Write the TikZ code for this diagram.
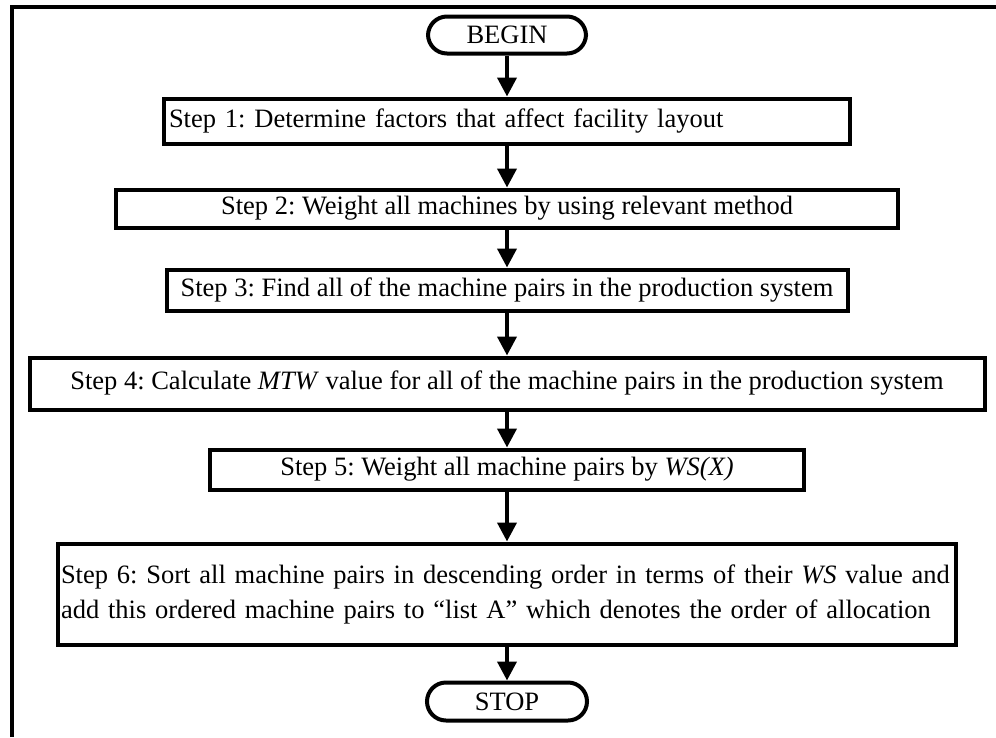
\documentclass[tikz,border=0pt]{standalone}
\usepackage{fontspec}
\setmainfont{Liberation Serif}
\usetikzlibrary{positioning,arrows.meta}

\begin{document}
\frenchspacing
\begin{tikzpicture}[x=1pt, y=1pt,
            stepbox/.style={
                rectangle, draw=black, line width=4pt,
                inner sep=5pt,
                font=\fontsize{26.5}{35}\selectfont
            },
            terminal/.style={
                rectangle, rounded corners=19pt, draw=black, line width=4pt,
                minimum width=158pt, minimum height=37pt,
                inner sep=0pt,
                font=\fontsize{26.5}{35}\selectfont
            },
            flow/.style={-{Triangle[width=19pt,length=19pt]}, line width=4pt},
        ]

            \useasboundingbox (0,0) rectangle (996,-737);
            \draw [line width=4pt] (12,-737) -- (12,-7) -- (996,-7);

            \node [terminal] (begin) at (507,-35) {BEGIN};

            \node [stepbox, minimum width=686pt, minimum height=45pt, text width=676pt, align=left] (step1) [ below= 41pt of begin ] {Step 1: Determine factors that affect facility layout};
            \draw [flow] (begin) -- (step1);

            \node [stepbox, minimum width=782pt, minimum height=38pt] (step2) [ below= 42pt of step1 ] {Step 2: Weight all machines by using relevant method};
            \draw [flow] (step1) -- (step2);

            \node [stepbox, minimum width=681pt, minimum height=41pt, inner xsep=2pt] (step3) [ below= 38pt of step2 ] {Step 3: Find all of the machine pairs in the production system};
            \draw [flow] (step2) -- (step3);

            \node [stepbox, minimum width=955pt, minimum height=52pt] (step4) [ below= 43pt of step3 ] {Step 4: Calculate \textit{MTW} value for all of the machine pairs in the production system};
            \draw [flow] (step3) -- (step4);

            \node [stepbox, minimum width=594pt, minimum height=40pt] (step5) [ below= 36pt of step4 ] {Step 5: Weight all machine pairs by \textit{WS(X)}};
            \draw [flow] (step4) -- (step5);

            \node [stepbox, minimum width=898pt, minimum height=101pt, inner xsep=3pt, text width=892pt, align=left] (step6) [ below= 50pt of step5 ] {Step 6: Sort all machine pairs in descending order in terms of their \textit{WS} value and\\add this ordered machine pairs to “list A” which denotes the order of allocation};
            \draw [flow] (step5) -- (step6);

            \node [terminal, minimum width=160pt, minimum height=38pt] (stop) [ below= 34pt of step6 ] {STOP};
            \draw [flow] (step6) -- (stop);

        \end{tikzpicture}
\end{document}
